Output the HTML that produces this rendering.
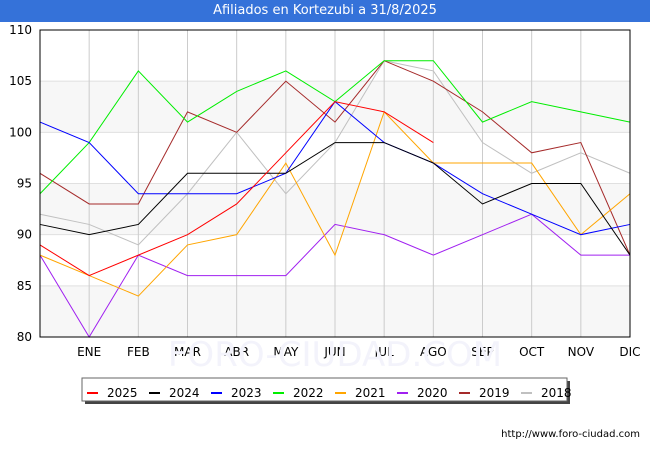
<!DOCTYPE html>
<html><head><meta charset="utf-8"><style>
body{margin:0;width:650px;height:450px;background:#fff;font-family:"DejaVu Sans","Liberation Sans",sans-serif;overflow:hidden}
#title{position:absolute;left:0;top:0;width:650px;height:22px;background:#3572d9;color:#fff;font-size:13px;text-align:center;line-height:22px}
</style></head><body>
<div id="title">Afiliados en Kortezubi a 31/8/2025</div>
<svg id="c" width="650" height="450" style="position:absolute;left:0;top:0"></svg>
<script>
const months=["","ENE","FEB","MAR","ABR","MAY","JUN","JUL","AGO","SEP","OCT","NOV","DIC"];
const yTicks=[80,85,90,95,100,105,110];
const years=["2025","2024","2023","2022","2021","2020","2019","2018"];
const colors=["#ff0000","#000000","#0000ff","#00ee00","#ffa500","#a020f0","#a52a2a","#c0c0c0"];
const s2025=[89,86,88,90,93,98,103,102,99];
const s2024=[91,90,91,96,96,96,99,99,97,93,95,95,88];
const s2023=[101,99,94,94,94,96,103,99,97,94,92,90,91];
const s2022=[94,99,106,101,104,106,103,107,107,101,103,102,101];
const s2021=[88,86,84,89,90,97,88,102,97,97,97,90,94];
const s2020=[88,80,88,86,86,86,91,90,88,90,92,88,88];
const s2019=[96,93,93,102,100,105,101,107,105,102,98,99,88];
const s2018=[92,91,89,94,100,94,99,107,106,99,96,98,96];
const series=[s2025,s2024,s2023,s2022,s2021,s2020,s2019,s2018];
const L=40,R=630,T=30,B=337;
const x=i=>L+(R-L)*i/12;
const y=v=>B-(v-80)/30*(B-T);
const svg=document.getElementById('c');
const NS="http://www.w3.org/2000/svg";
function mk(t,a,p){const e=document.createElementNS(NS,t);for(const k in a)e.setAttribute(k,a[k]);(p||svg).appendChild(e);return e;}
for(let v=80;v<110;v+=10){const r=mk('rect',{x:L,y:y(v+5),width:R-L,height:y(v)-y(v+5),fill:'#f7f7f7'});

}
yTicks.forEach(v=>{const l=mk('line',{x1:L,x2:R,y1:y(v),y2:y(v),stroke:'#e0e0e0'});


const t=mk('text',{x:L-8,y:y(v)+4,'text-anchor':'end','font-size':12,fill:'#000'});t.textContent=v;

});
months.forEach((m,i)=>{if(i>0){const l=mk('line',{x1:x(i),x2:x(i),y1:T,y2:B,stroke:'#cccccc'});


const t=mk('text',{x:x(i),y:B+19,'text-anchor':'middle','font-size':12,fill:'#000'});t.textContent=m;

}});
const wm=mk('text',{x:335,y:366,'text-anchor':'middle','font-size':34,fill:'#f3f3fb'});wm.textContent="FORO-CIUDAD.COM";


for(let k=series.length-1;k>=0;k--){const d=series[k].map((v,i)=>(i?'L':'M')+x(i)+','+y(v)).join('');
const p=mk('path',{d:d,fill:'none',stroke:colors[k],'stroke-width':1});

}
const fr=mk('rect',{x:L,y:T,width:R-L,height:B-T,fill:'none',stroke:'#000'});


const g=mk('g',{});


mk('rect',{x:85,y:381,width:485,height:23,fill:'#444'},g);
mk('rect',{x:82,y:378,width:485,height:23,fill:'#fff',stroke:'#666'},g);
years.forEach((yr,k)=>{const e=mk('g',{},g);


const bx=87+k*62;
mk('line',{x1:bx,x2:bx+11,y1:393,y2:393,stroke:colors[k],'stroke-width':2},e);
const t=mk('text',{x:bx+20,y:397,'font-size':12,fill:'#000'},e);t.textContent=yr;});
const u=mk('text',{x:640,y:437,'text-anchor':'end','font-size':10,fill:'#000'});u.textContent="http://www.foro-ciudad.com";


</script>
</body></html>
